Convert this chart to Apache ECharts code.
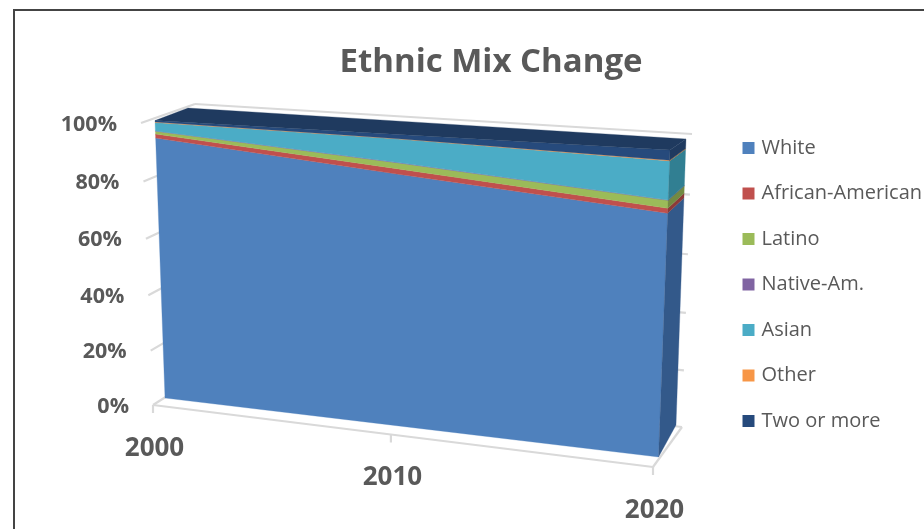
<!DOCTYPE html>
<html>
<head>
<meta charset="utf-8">
<style>html,body{margin:0;padding:0;background:#fff}#c{width:924px;height:529px}</style>
<script src="https://cdn.jsdelivr.net/npm/echarts@6/dist/echarts.min.js"></script>
</head>
<body>
<div id="c"></div>
<script>
// ---- data ----
const years = ['2000', '2010', '2020'];
const yTickLabels = ['0%', '20%', '40%', '60%', '80%', '100%'];
const yTickValues = [0, 20, 40, 60, 80, 100];
const white = [93.9, 86.8, 80.1];
const africanAmerican = [1.4, 1.8, 1.6];
const latino = [1.0, 2.0, 2.5];
const nativeAm = [0.1, 0.1, 0.1];
const asian = [2.9, 7.8, 12.3];
const other = [0.2, 0.1, 0.2];
const twoOrMore = [0.5, 1.4, 3.2];
const seriesNames = ['White', 'African-American', 'Latino', 'Native-Am.', 'Asian', 'Other', 'Two or more'];
const seriesValues = [white, africanAmerican, latino, nativeAm, asian, other, twoOrMore];
const frontColors = ['#4f81bd', '#c0504d', '#9bbb59', '#8064a2', '#4bacc6', '#f79646', '#264a7c'];
const sideColors = ['#33598a', '#8c3a38', '#728a42', '#5d4a78', '#317f92', '#b56e33', '#1f3a5f'];
const topColor = '#1f3a5f';
const gridColor = '#d9d9d9';
const textColor = '#595959';

// ---- projection of the flat grid onto the tilted 3-D planes ----
function homography(q) { // q = [BL, BR, TR, TL]
  const [x0, y0] = q[0], [x1, y1] = q[1], [x2, y2] = q[2], [x3, y3] = q[3];
  const dx1 = x1 - x2, dx2 = x3 - x2, sx = x0 - x1 + x2 - x3;
  const dy1 = y1 - y2, dy2 = y3 - y2, sy = y0 - y1 + y2 - y3;
  const den = dx1 * dy2 - dx2 * dy1;
  const g = (sx * dy2 - dx2 * sy) / den, h = (dx1 * sy - sx * dy1) / den;
  const a = x1 - x0 + g * x1, b = x3 - x0 + h * x3, d = y1 - y0 + g * y1, e = y3 - y0 + h * y3;
  return (u, v) => {
    const w = g * u + h * v + 1;
    return [(a * u + b * v + x0) / w, (d * u + e * v + y0) / w];
  };
}
const dataFront = homography([[165, 398], [658.5, 457], [670, 150], [155, 120.5]]);
const dataBack = homography([[198, 376], [676, 425], [686, 139], [188, 108]]);
const wallFront = homography([[153, 405], [653, 467], [665, 158], [141, 123]]);
const wallBack = homography([[205, 372], [682, 427], [692, 134], [195, 104]]);

function unit(coordSys, pt) {
  return [(pt[0] - coordSys.x) / coordSys.width, 1 - (pt[1] - coordSys.y) / coordSys.height];
}
function poly(points, color) {
  return { type: 'polygon', shape: { points }, style: { fill: color, stroke: color, lineWidth: 0.3 } };
}
function seg(a, b) {
  return { type: 'line', shape: { x1: a[0], y1: a[1], x2: b[0], y2: b[1] },
    style: { stroke: gridColor, lineWidth: 2.2, fill: null } };
}

// cumulative stacks
const base = years.map(() => 0);
const stacked = seriesValues.map(vals => vals.map((v, j) => {
  const lo = base[j];
  base[j] = lo + v;
  return [lo, base[j]];
}));

const areaSeries = seriesNames.map((name, s) => ({
  type: 'custom',
  name,
  coordinateSystem: 'cartesian2d',
  itemStyle: { color: frontColors[s] },
  silent: true,
  z: 5,
  encode: { x: 0, y: [1, 2] },
  data: years.map((y, j) => [y, stacked[s][j][0], stacked[s][j][1]]),
  renderItem(params, api) {
    const j = params.dataIndex, cs = params.coordSys;
    const uv = (jj, val) => unit(cs, api.coord([jj, val]));
    const kids = [];
    const last = years.length - 1;
    if (j === 0) {
      const lower = years.map((y, k) => uv(k, stacked[s][k][0]));
      const upper = years.map((y, k) => uv(k, stacked[s][k][1]));
      const front = lower.map(p => dataFront(...p)).concat(upper.slice().reverse().map(p => dataFront(...p)));
      kids.push(poly(front, frontColors[s]));
      if (s === seriesNames.length - 1) {
        const topPts = upper.map(p => dataFront(...p)).concat(upper.slice().reverse().map(p => dataBack(...p)));
        kids.push(poly(topPts, topColor));
      }
    }
    if (j === last) {
      const a = uv(j, stacked[s][j][0]), e = uv(j, stacked[s][j][1]);
      kids.push(poly([dataFront(...a), dataBack(...a), dataBack(...e), dataFront(...e)], sideColors[s]));
    }
    return { type: 'group', children: kids };
  }
}));

const wallSeries = {
  type: 'custom',
  name: 'walls',
  silent: true,
  z: 2,
  encode: { y: 1 },
  data: yTickValues.map((v, i) => [0, v, yTickLabels[i]]),
  renderItem(params, api) {
    const i = params.dataIndex, cs = params.coordSys;
    const p = unit(cs, api.coord([0, yTickValues[i]]));
    const v = p[1];
    const f0 = wallFront(0, v), b0 = wallBack(0, v), b1 = wallBack(1, v);
    const kids = [seg(f0, b0), seg(b0, b1)];
    if (i === 0) kids.push(seg(f0, wallFront(1, 0)), seg(wallFront(1, 0), b1));
    kids.push({ type: 'text', style: {
      x: f0[0] - 24, y: f0[1] + 1.5, text: yTickLabels[i], fill: textColor,
      font: '700 21.5px "Open Sans"', align: 'right', verticalAlign: 'middle'
    } });
    return { type: 'group', children: kids };
  }
};

const xLabelSeries = {
  type: 'custom',
  name: 'years',
  silent: true,
  z: 3,
  encode: { x: 0 },
  data: years.map(y => [y, 0]),
  renderItem(params, api) {
    const j = params.dataIndex, cs = params.coordSys;
    const p = unit(cs, api.coord([j, 0]));
    const t = wallFront(p[0], 0);
    return { type: 'group', children: [
      seg(t, [t[0], t[1] + 8]),
      { type: 'text', style: {
        x: t[0] + 1.5, y: t[1] + 43.5, text: years[j], fill: textColor,
        font: '700 26px "Open Sans"', align: 'center', verticalAlign: 'middle'
      } }
    ] };
  }
};

const chart = echarts.init(document.getElementById('c'), null, { renderer: 'canvas' });
chart.setOption({
  animation: false,
  backgroundColor: '#fff',
  title: {
    text: 'Ethnic Mix Change', left: 486, top: 41, textAlign: 'center',
    textStyle: { color: textColor, fontFamily: '"Open Sans"', fontWeight: 700, fontSize: 33 }
  },
  legend: {
    orient: 'vertical', left: 737.5, top: 133, itemWidth: 12, itemHeight: 12, itemGap: 25.5,
    data: seriesNames.map(name => ({ name, icon: 'rect' })),
    selectedMode: false,
    textStyle: { color: textColor, fontFamily: '"Open Sans"', fontSize: 20, padding: [0, 0, 0, 2] }
  },
  grid: { left: 125, right: 240, top: 123, bottom: 124 },
  xAxis: { type: 'category', data: years, boundaryGap: false, show: false },
  yAxis: { type: 'value', min: 0, max: 100, interval: 20, show: false },
  graphic: [
    { type: 'line', shape: { x1: 14, y1: 10, x2: 924, y2: 10 }, style: { stroke: '#444', lineWidth: 2 } },
    { type: 'line', shape: { x1: 14, y1: 9, x2: 14, y2: 529 }, style: { stroke: '#444', lineWidth: 2 } }
  ],
  series: [wallSeries, xLabelSeries].concat(areaSeries)
});
</script>
</body>
</html>
